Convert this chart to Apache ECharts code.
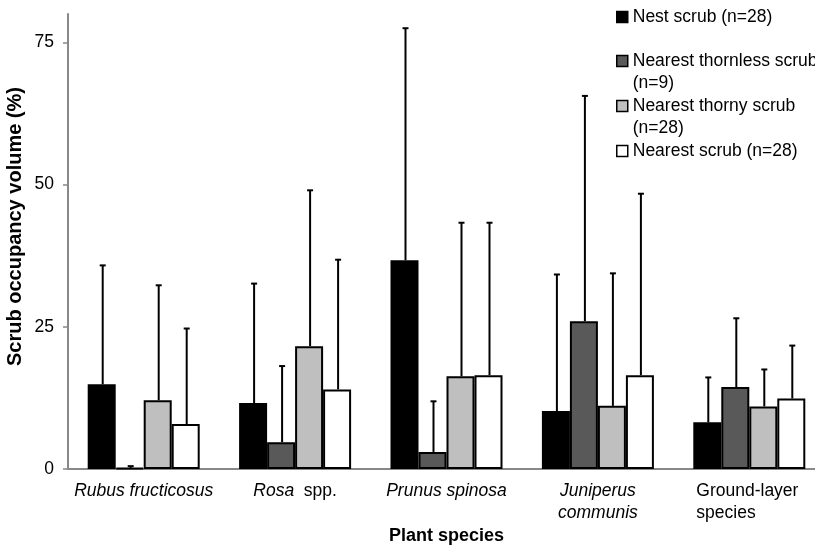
<!DOCTYPE html>
<html>
<head>
<meta charset="utf-8">
<script src="https://cdn.jsdelivr.net/npm/echarts@6/dist/echarts.min.js"></script>
<style>html,body{margin:0;padding:0;background:#fff}#main{width:815px;height:548px}</style>
</head>
<body>
<div id="main"></div>
<script>
var categories = ['Rubus fructicosus', 'Rosa spp.', 'Prunus spinosa', 'Juniperus communis', 'Ground-layer species'];
var categoryLabels = ['{i|Rubus fructicosus}', '{i|Rosa}{n|  spp.}', '{i|Prunus spinosa}', '{i|Juniperus}\n{i|communis}', '{g|Ground-layer}\n{g|species}'];
var seriesNames = ['Nest scrub (n=28)', 'Nearest thornless scrub\n(n=9)', 'Nearest thorny scrub\n(n=28)', 'Nearest scrub (n=28)'];
var seriesColors = ['#000000', '#595959', '#bfbfbf', '#ffffff'];

// means
var nestMean = [14.9, 11.6, 36.7, 10.2, 8.2];
var thornlessMean = [0.2, 4.7, 3.0, 26.0, 14.4];
var thornyMean = [12.1, 21.6, 16.3, 11.1, 11.0];
var nearestMean = [7.9, 14.0, 16.5, 16.5, 12.4];
// top of error bars
var nestUpper = [35.8, 32.6, 77.5, 34.2, 16.1];
var thornlessUpper = [0.5, 18.1, 11.9, 65.6, 26.5];
var thornyUpper = [32.3, 49.0, 43.3, 34.4, 17.5];
var nearestUpper = [24.7, 36.8, 43.3, 48.4, 21.7];

var yTicks = [0, 25, 50, 75];

var means = [nestMean, thornlessMean, thornyMean, nearestMean];
var uppers = [nestUpper, thornlessUpper, thornyUpper, nearestUpper];

var barW = 28;
var font = '"Liberation Sans", Arial, sans-serif';
var fs = 17.5;

var series = [];
for (var s = 0; s < 4; s++) {
  series.push({
    name: seriesNames[s],
    type: 'bar',
    barWidth: barW,
    barGap: '0%',
    itemStyle: { color: seriesColors[s], borderColor: '#000', borderWidth: 2 },
    data: means[s],
    z: 2
  });
}

var errData = [];
for (var s = 0; s < 4; s++) {
  for (var c = 0; c < categories.length; c++) {
    errData.push([c, means[s][c], uppers[s][c], s]);
  }
}
series.push({
  type: 'custom',
  name: 'err',
  z: 1,
  renderItem: function (params, api) {
    var c = api.value(0);
    var s = api.value(3);
    var lo = api.coord([c, api.value(1)]);
    var hi = api.coord([c, api.value(2)]);
    var x = lo[0] + (s - 1.5) * barW + 1;
    return {
      type: 'group',
      children: [
        { type: 'line', shape: { x1: x, y1: lo[1], x2: x, y2: hi[1] }, style: { stroke: '#000', lineWidth: 2 } },
        { type: 'line', shape: { x1: x - 3, y1: hi[1], x2: x + 3, y2: hi[1] }, style: { stroke: '#000', lineWidth: 2 } }
      ]
    };
  },
  data: errData
});

var legendTops = [6, 28, 73, 140];
var legends = [];
for (var s = 0; s < 4; s++) {
  legends.push({
    data: [seriesNames[s]],
    left: 616,
    top: legendTops[s],
    padding: 0,
    itemWidth: 11,
    itemHeight: 11,
    icon: 'rect',
    itemStyle: { borderColor: '#000', borderWidth: 1.5 },
    formatter: function (name) {
      // blank line above two-line names keeps the square level with the first line
      return name.indexOf('\n') >= 0 ? ' \n' + name : name;
    },
    textStyle: { fontFamily: font, fontSize: fs, color: '#000', lineHeight: 22 }
  });
}

var chart = echarts.init(document.getElementById('main'));
chart.setOption({
  animation: false,
  backgroundColor: '#fff',
  legend: legends,
  grid: { left: 68, right: -10, top: 14, bottom: 79, outerBoundsMode: 'none' },
  xAxis: {
    type: 'category',
    data: categories,
    name: 'Plant species',
    nameLocation: 'middle',
    nameGap: 58,
    nameMoveOverlap: false,
    nameTextStyle: { fontFamily: font, fontSize: 18, fontWeight: 'bold', color: '#000' },
    axisLine: { lineStyle: { color: '#888', width: 2 } },
    axisTick: { show: false },
    axisLabel: {
      margin: 11,
      verticalAlign: 'top',
      formatter: function (v, i) { return categoryLabels[i]; },
      rich: {
        i: { fontFamily: font, fontSize: fs, fontStyle: 'italic', color: '#000', lineHeight: 22 },
        n: { fontFamily: font, fontSize: fs, color: '#000', lineHeight: 22 },
        g: { fontFamily: font, fontSize: fs, color: '#000', lineHeight: 22, width: 106, align: 'left' }
      }
    }
  },
  yAxis: {
    type: 'value',
    min: 0,
    max: 80,
    interval: 25,
    name: 'Scrub occupancy volume (%)',
    nameLocation: 'middle',
    nameGap: 43,
    nameMoveOverlap: false,
    nameTextStyle: { fontFamily: font, fontSize: 20, fontWeight: 'bold', color: '#000', padding: [0, 0, 0, 30] },
    axisLine: { show: true, lineStyle: { color: '#888', width: 2 } },
    axisTick: { show: true, length: 5, lineStyle: { color: '#888', width: 1.5 }, customValues: yTicks },
    axisLabel: { fontFamily: font, fontSize: fs, color: '#000', margin: 14, customValues: yTicks },
    splitLine: { show: false }
  },
  series: series
});
</script>
</body>
</html>
